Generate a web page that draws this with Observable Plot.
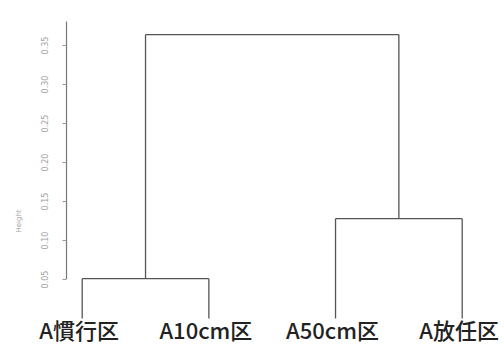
<!DOCTYPE html>
<html><head><meta charset="utf-8">
<script src="https://cdn.jsdelivr.net/npm/d3@7"></script>
<script src="https://cdn.jsdelivr.net/npm/@observablehq/plot@0.6"></script>
<style>
body{margin:0;background:#fff;}
#chart svg{display:block;}
</style>
</head><body><div id="chart"></div>
<script>
// Leaves (in plotting order) and hclust-style merge table
const leaves = ["A慣行区", "A10cm区", "A50cm区", "A放任区"];
const merge = [[-1, -2], [-3, -4], [1, 2]];
const heights = [0.051, 0.128, 0.364];
const yTicks = [0.05, 0.10, 0.15, 0.20, 0.25, 0.30, 0.35];
const leafBase = 0; // hang = -1: all leaves drop to the baseline

// Build dendrogram segments from the merge table
const nodeX = [], nodeH = [];
const pos = id => id < 0 ? {x: -id, h: leafBase} : {x: nodeX[id - 1], h: nodeH[id - 1]};
const segs = [];
merge.forEach(([a, b], i) => {
  const A = pos(a), B = pos(b), h = heights[i];
  segs.push({x1: A.x, y1: A.h, x2: A.x, y2: h});
  segs.push({x1: B.x, y1: B.h, x2: B.x, y2: h});
  segs.push({x1: A.x, y1: h, x2: B.x, y2: h});
  nodeX.push((A.x + B.x) / 2); nodeH.push(h);
});
const leafData = leaves.map((name, i) => ({name, x: i + 1, y: leafBase}));

const pxPerUnit = 126.67;
const xMin = 1 - 15.7 / pxPerUnit;
const tickLen = 4 / pxPerUnit;
const chart = Plot.plot({
  width: 504, height: 355,
  marginLeft: 66, marginRight: 42.3, marginTop: 6, marginBottom: 37,
  x: {type: "linear", domain: [xMin, 4], axis: null},
  y: {type: "linear", domain: [0, 0.40], axis: null},
  style: {background: "#fff", fontFamily: "'DejaVu Sans', sans-serif"},
  marks: [
    // y axis line
    Plot.ruleX([{x: xMin, y1: 0.05, y2: 0.38}], {x: "x", y1: "y1", y2: "y2", stroke: "#777", strokeWidth: 1.2}),
    // y ticks
    Plot.link(yTicks, {x1: () => xMin - tickLen, x2: () => xMin, y1: d => d, y2: d => d, stroke: "#999", strokeWidth: 1}),
    Plot.text(yTicks, {y: d => d, x: () => xMin, dx: -21, rotate: -90, text: d => d.toFixed(2), fontSize: 8, fill: "#a0a0a0", textAnchor: "middle", lineAnchor: "middle"}),
    Plot.text(["Height"], {x: () => xMin, y: () => 0.125, dx: -48, rotate: -90, text: d => d, fontSize: 7, fill: "#a0a0a0", textAnchor: "middle", lineAnchor: "middle"}),
    // dendrogram
    Plot.link(segs, {x1: "x1", y1: "y1", x2: "x2", y2: "y2", stroke: "#555", strokeWidth: 1.3}),
    // leaf labels
    Plot.text(leafData, {x: "x", y: "y", dx: -3, dy: 13, text: "name", fontSize: 22, fontWeight: 500, fill: "#222", fontFamily: "'Noto Sans CJK JP', sans-serif", textAnchor: "middle", lineAnchor: "middle"})
  ]
});
document.getElementById("chart").append(chart);
</script>
</body></html>
